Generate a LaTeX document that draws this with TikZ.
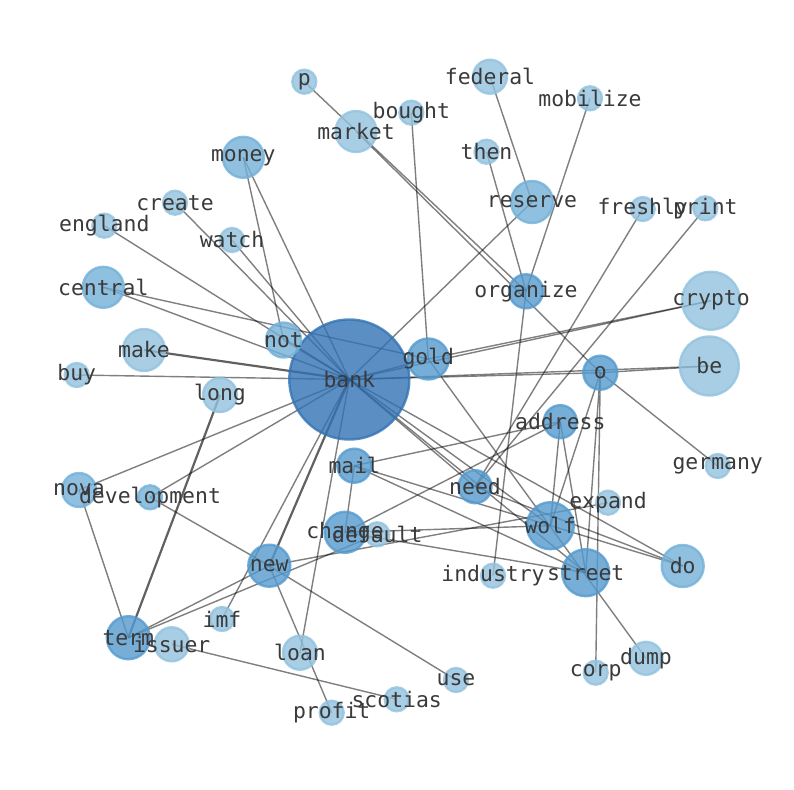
\documentclass[tikz,border=0pt]{standalone}
\usepackage{fontspec}
\setmonofont{DejaVu Sans Mono}
\pgfdeclarelayer{bg}
\pgfdeclarelayer{fg}
\pgfsetlayers{bg,main,fg}
\definecolor{cA}{RGB}{50,115,181}
\definecolor{cB}{RGB}{84,154,206}
\definecolor{cC}{RGB}{115,176,216}
\definecolor{cD}{RGB}{146,194,222}
\definecolor{txt}{RGB}{58,58,58}
\tikzset{
  vtx/.style={circle, inner sep=0pt, outer sep=0pt, line width=2.4bp, fill opacity=0.8, draw opacity=0.8},
  vA/.style={vtx, fill=cA, draw=cA},
  vB/.style={vtx, fill=cB, draw=cB},
  vC/.style={vtx, fill=cC, draw=cC},
  vD/.style={vtx, fill=cD, draw=cD},
  edge/.style={draw=black, draw opacity=0.5, line width=1.4bp},
  edgeb/.style={draw=black, draw opacity=0.62, line width=2.2bp},
  lbl/.style={inner sep=0pt, text=txt, font=\ttfamily\fontsize{21.5}{22}\selectfont}
}
\begin{document}
\begin{tikzpicture}[x=1bp,y=-1bp]
\useasboundingbox (0,0) rectangle (794,790);
\foreach \n/\x/\y/\r/\s in {
 bank/349.3/379.5/60/vA,
 gold/428.3/359/20.5/vB,
 not/283.5/340/17.5/vC,
 money/243.3/157.3/20.5/vC,
 p/304.3/81.7/12/vD,
 market/356/131.5/20.5/vD,
 bought/411.3/112.7/12/vD,
 federal/490/76.7/17/vD,
 mobilize/590/98.3/12/vD,
 then/486.5/151.7/12/vD,
 reserve/532/202/21/vC,
 freshly/642.7/209/12/vD,
 print/705.3/208.3/12/vD,
 organize/526/291.3/17/vB,
 crypto/711/300.7/29/vD,
 be/709.3/366/29.5/vD,
 o/600.3/372.7/17/vB,
 create/175/202.7/12/vD,
 england/104.3/225.7/12/vD,
 watch/232/240/12/vD,
 central/103.3/287.3/20.5/vC,
 make/144/350/21/vD,
 buy/76.7/375/12/vD,
 long/220/395/17/vD,
 address/560.3/421.7/16.5/vB,
 germany/717.7/466/12/vD,
 mail/354.3/465.7/17/vB,
 need/475/486.7/16.5/vB,
 expand/608/502.7/12/vD,
 nova/79/490/17/vC,
 development/150/497.3/12/vC,
 change/345/532.3/20.5/vB,
 default/377.3/534.3/12/vD,
 wolf/550.3/525.7/23.5/vB,
 new/269.3/565.7/21/vB,
 industry/493/575.7/12/vD,
 street/585.7/572.7/23.5/vB,
 do/682.7/566/21/vC,
 imf/222/619/12/vD,
 term/128.3/637.7/21.5/vB,
 issuer/171.7/644.3/17/vD,
 loan/300/652.7/17/vD,
 dump/646/658.3/16.5/vD,
 corp/595.7/672.7/12/vD,
 use/456/680/12/vD,
 scotias/396.7/699.3/12/vD,
 profit/331.7/712.7/12/vD}
 \node[\s, minimum size={2*\r bp}] (\n) at (\x,\y) {};
\begin{pgfonlayer}{bg}
\foreach \a/\b in {
 bank/gold, bank/crypto, gold/crypto, bank/o, bank/be, o/be,
 bank/not, bank/money, money/not, bank/create, bank/watch, bank/england,
 bank/central, central/gold, bank/buy,
 bank/nova, bank/development, development/new,
 nova/term, bank/imf, bank/loan, new/term,
 new/profit, new/use, issuer/scotias, bank/reserve, federal/reserve,
 then/organize, mobilize/organize, organize/industry, p/organize,
 market/o, o/germany, bought/gold, gold/dump, need/freshly, need/print,
 o/street, o/corp, o/wolf, address/wolf, address/street,
 mail/address, change/address, mail/change, change/street, change/wolf,
 term/default, new/expand, bank/need, bank/wolf, bank/street, bank/do,
 need/do, mail/do, mail/street}
 \draw[edge] (\a.center) -- (\b.center);
\foreach \a/\b in {bank/make, long/term, bank/new}
 \draw[edgeb] (\a.center) -- (\b.center);
\end{pgfonlayer}
\begin{pgfonlayer}{fg}
\foreach \n in {bank,gold,not,money,p,market,bought,federal,mobilize,then,
 reserve,freshly,print,organize,crypto,be,o,create,england,watch,central,
 make,buy,long,address,germany,mail,need,expand,nova,development,change,
 default,wolf,new,industry,street,do,imf,term,issuer,loan,dump,corp,use,
 scotias,profit}
 \node[lbl] (t-\n) at (\n.center) {\n};
\end{pgfonlayer}
\end{tikzpicture}
\end{document}
